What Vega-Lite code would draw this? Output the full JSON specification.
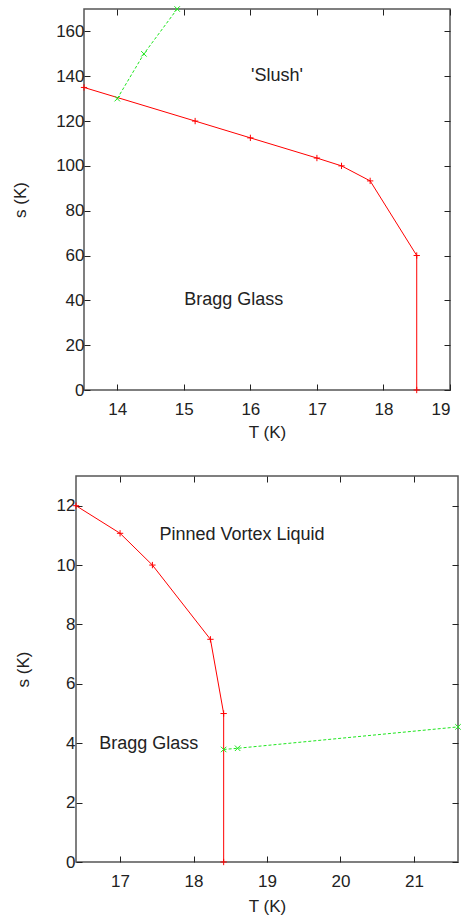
{
  "$schema": "https://vega.github.io/schema/vega-lite/v6.json",
  "padding": {"left": 10, "top": 3, "right": 5, "bottom": 5},
  "background": "white",
  "bounds": "flush",
  "center": true,
  "spacing": 86,
  "config": {
    "font": "Liberation Sans",
    "view": {"stroke": "#555", "strokeWidth": 1.5},
    "axis": {
      "grid": false, "domain": false, "tickColor": "#222", "tickSize": -6, "tickWidth": 1,
      "labelFont": "Liberation Sans", "labelFontSize": 17, "labelColor": "#222",
      "titleFont": "Liberation Sans", "titleFontSize": 17, "titleFontWeight": "normal", "titleColor": "#222"
    }
  },
  "datasets": {
    "top_red": [
      {"T": 13.5, "s": 135}, {"T": 15.17, "s": 120}, {"T": 16.0, "s": 112.5}, {"T": 17.0, "s": 103.5},
      {"T": 17.37, "s": 100}, {"T": 17.8, "s": 93.3}, {"T": 18.5, "s": 60}, {"T": 18.5, "s": 0}
    ],
    "top_green": [
      {"T": 14.0, "s": 130}, {"T": 14.4, "s": 150}, {"T": 14.9, "s": 170}
    ],
    "top_labels": [
      {"T": 16.4, "s": 140, "label": "'Slush'"},
      {"T": 15.75, "s": 40, "label": "Bragg Glass"}
    ],
    "bot_red": [
      {"T": 16.4, "s": 12}, {"T": 17.0, "s": 11.07}, {"T": 17.44, "s": 10}, {"T": 18.23, "s": 7.5},
      {"T": 18.41, "s": 5}, {"T": 18.41, "s": 0}
    ],
    "bot_green": [
      {"T": 18.41, "s": 3.79}, {"T": 18.6, "s": 3.83}, {"T": 21.6, "s": 4.55}
    ],
    "bot_labels": [
      {"T": 18.66, "s": 11.0, "label": "Pinned Vortex Liquid"},
      {"T": 17.39, "s": 3.98, "label": "Bragg Glass"}
    ]
  },
  "vconcat": [
    {
      "width": 366, "height": 381,
      "resolve": {"axis": {"x": "independent", "y": "independent"}},
      "layer": [
        {
          "data": {"name": "top_red"},
          "mark": {"type": "line", "color": "#ff0000", "strokeWidth": 1},
          "encoding": {
            "x": {"field": "T", "type": "quantitative", "scale": {"domain": [13.5, 19], "nice": false, "zero": false},
                  "axis": {"title": "T (K)", "values": [14, 15, 16, 17, 18, 19], "labelPadding": 17, "titlePadding": 7}},
            "y": {"field": "s", "type": "quantitative", "scale": {"domain": [0, 170], "nice": false},
                  "axis": {"title": "s (K)", "values": [0, 20, 40, 60, 80, 100, 120, 140, 160], "labelPadding": 6, "titlePadding": 26}}
          }
        },
        {
          "data": {"name": "top_red"},
          "mark": {"type": "point", "shape": "M-1,0H1M0,-1V1", "filled": false, "stroke": "#ff0000", "strokeWidth": 1, "size": 40, "opacity": 1},
          "encoding": {
            "x": {"field": "T", "type": "quantitative", "axis": null},
            "y": {"field": "s", "type": "quantitative", "axis": null}
          }
        },
        {
          "data": {"name": "top_green"},
          "mark": {"type": "line", "color": "#1ee61e", "strokeWidth": 1, "strokeDash": [3, 2]},
          "encoding": {
            "x": {"field": "T", "type": "quantitative", "axis": {"orient": "top", "labels": false, "title": null, "values": [14, 15, 16, 17, 18, 19]}},
            "y": {"field": "s", "type": "quantitative", "axis": {"orient": "right", "labels": false, "title": null, "values": [0, 20, 40, 60, 80, 100, 120, 140, 160]}}
          }
        },
        {
          "data": {"name": "top_green"},
          "mark": {"type": "point", "shape": "M-1,-1L1,1M1,-1L-1,1", "filled": false, "stroke": "#1ee61e", "strokeWidth": 1, "size": 30, "opacity": 1},
          "encoding": {
            "x": {"field": "T", "type": "quantitative", "axis": null},
            "y": {"field": "s", "type": "quantitative", "axis": null}
          }
        },
        {
          "data": {"name": "top_labels"},
          "mark": {"type": "text", "fontSize": 18, "font": "Liberation Sans", "color": "#222", "align": "center", "baseline": "middle"},
          "encoding": {
            "x": {"field": "T", "type": "quantitative", "axis": null},
            "y": {"field": "s", "type": "quantitative", "axis": null},
            "text": {"field": "label"}
          }
        }
      ]
    },
    {
      "width": 382, "height": 386,
      "resolve": {"axis": {"x": "independent", "y": "independent"}},
      "layer": [
        {
          "data": {"name": "bot_red"},
          "mark": {"type": "line", "color": "#ff0000", "strokeWidth": 1},
          "encoding": {
            "x": {"field": "T", "type": "quantitative", "scale": {"domain": [16.4, 21.6], "nice": false, "zero": false},
                  "axis": {"title": "T (K)", "values": [17, 18, 19, 20, 21], "labelPadding": 17, "titlePadding": 9}},
            "y": {"field": "s", "type": "quantitative", "scale": {"domain": [0, 13], "nice": false},
                  "axis": {"title": "s (K)", "values": [0, 2, 4, 6, 8, 10, 12], "labelPadding": 7, "titlePadding": 24}}
          }
        },
        {
          "data": {"name": "bot_red"},
          "mark": {"type": "point", "shape": "M-1,0H1M0,-1V1", "filled": false, "stroke": "#ff0000", "strokeWidth": 1, "size": 40, "opacity": 1},
          "encoding": {
            "x": {"field": "T", "type": "quantitative", "axis": null},
            "y": {"field": "s", "type": "quantitative", "axis": null}
          }
        },
        {
          "data": {"name": "bot_green"},
          "mark": {"type": "line", "color": "#1ee61e", "strokeWidth": 1, "strokeDash": [3, 2]},
          "encoding": {
            "x": {"field": "T", "type": "quantitative", "axis": {"orient": "top", "labels": false, "title": null, "values": [17, 18, 19, 20, 21]}},
            "y": {"field": "s", "type": "quantitative", "axis": {"orient": "right", "labels": false, "title": null, "values": [0, 2, 4, 6, 8, 10, 12]}}
          }
        },
        {
          "data": {"name": "bot_green"},
          "mark": {"type": "point", "shape": "M-1,-1L1,1M1,-1L-1,1", "filled": false, "stroke": "#1ee61e", "strokeWidth": 1, "size": 30, "opacity": 1},
          "encoding": {
            "x": {"field": "T", "type": "quantitative", "axis": null},
            "y": {"field": "s", "type": "quantitative", "axis": null}
          }
        },
        {
          "data": {"name": "bot_labels"},
          "mark": {"type": "text", "fontSize": 18, "font": "Liberation Sans", "color": "#222", "align": "center", "baseline": "middle"},
          "encoding": {
            "x": {"field": "T", "type": "quantitative", "axis": null},
            "y": {"field": "s", "type": "quantitative", "axis": null},
            "text": {"field": "label"}
          }
        }
      ]
    }
  ]
}
